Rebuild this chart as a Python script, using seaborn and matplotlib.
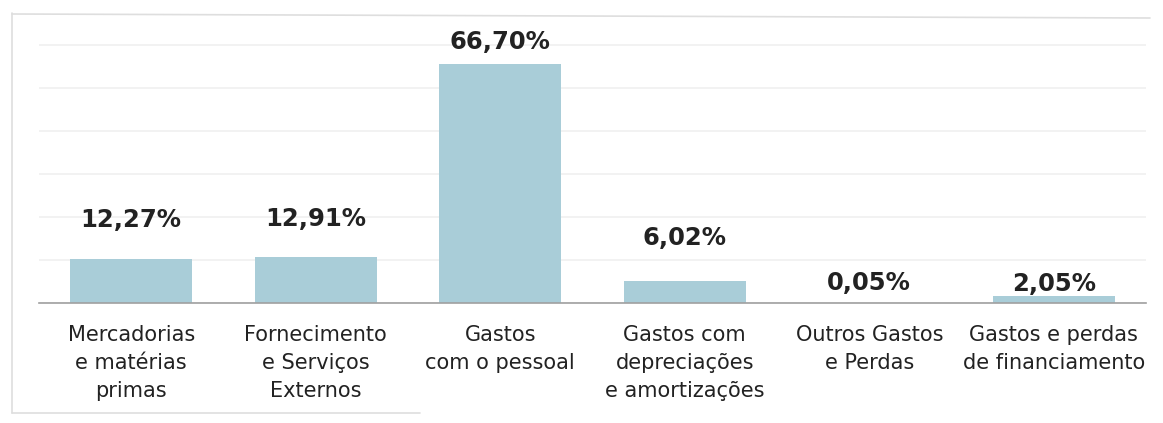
import matplotlib
matplotlib.use("Agg")
import matplotlib.pyplot as plt
import seaborn as sns
import pandas as pd
from matplotlib.lines import Line2D
from matplotlib.ticker import FixedLocator, MultipleLocator

categories = [
    "Mercadorias\ne matérias\nprimas",
    "Fornecimento\ne Serviços\nExternos",
    "Gastos\ncom o pessoal",
    "Gastos com\ndepreciações\ne amortizações",
    "Outros Gastos\ne Perdas",
    "Gastos e perdas\nde financiamento",
]
values = [12.27, 12.91, 66.70, 6.02, 0.05, 2.05]
value_labels = ["12,27%", "12,91%", "66,70%", "6,02%", "0,05%", "2,05%"]

# label centre offsets above bar tops, in points (style only)
label_offsets = [28, 27, 16, 31, 14, 8.5]

df = pd.DataFrame({"cat": categories, "val": values})

sns.set_theme(style="white")
plt.rcParams["font.family"] = ["DejaVu Sans"]

fig = plt.figure(figsize=(11.63, 4.23), dpi=100)
ax = fig.add_axes([0.0335, 0.2837, 0.9519, 0.677])

sns.barplot(data=df, x="cat", y="val", color="#a9cdd8", saturation=1,
            width=0.66, ax=ax, edgecolor="none")

ax.set_xlim(-0.5, 5.5)
ax.set_ylim(0, 80)
ax.yaxis.set_major_locator(MultipleLocator(12))
ax.grid(axis="y", color="#f0f0f0", linewidth=1.2)
ax.set_axisbelow(True)
ax.set_yticklabels([])
ax.tick_params(axis="y", length=0)
ax.set_xlabel("")
ax.set_ylabel("")

for s in ["top", "right", "left"]:
    ax.spines[s].set_visible(False)
ax.spines["bottom"].set_color("#a0a0a0")
ax.spines["bottom"].set_linewidth(1.2)

ax.tick_params(axis="x", which="major", length=0, pad=15.5, labelsize=15,
               labelcolor="#222222")
for t in ax.get_xticklabels():
    t.set_linespacing(1.5)
ax.xaxis.set_minor_locator(FixedLocator([i + 0.5 for i in range(-1, 6)]))
ax.tick_params(axis="x", which="minor", length=5, color="#b0b0b0",
               direction="out", width=1)

for i, (v, lab) in enumerate(zip(values, value_labels)):
    ax.annotate(lab, xy=(i, v), xytext=(0, label_offsets[i]),
                textcoords="offset points", ha="center", va="center",
                fontsize=17.5, fontweight="bold", color="#222222")

# faint scanned frame
fc = "#dedede"
fig.add_artist(Line2D([12/1163, 12/1163], [1-13/423, 1-413/423],
                      transform=fig.transFigure, color=fc, lw=1.2))
fig.add_artist(Line2D([12/1163, 1150/1163], [1-14/423, 1-18/423],
                      transform=fig.transFigure, color=fc, lw=1.2))
fig.add_artist(Line2D([12/1163, 420/1163], [1-413/423, 1-413/423],
                      transform=fig.transFigure, color=fc, lw=1.2))

fig.savefig("out.png", dpi=100, facecolor="white")
